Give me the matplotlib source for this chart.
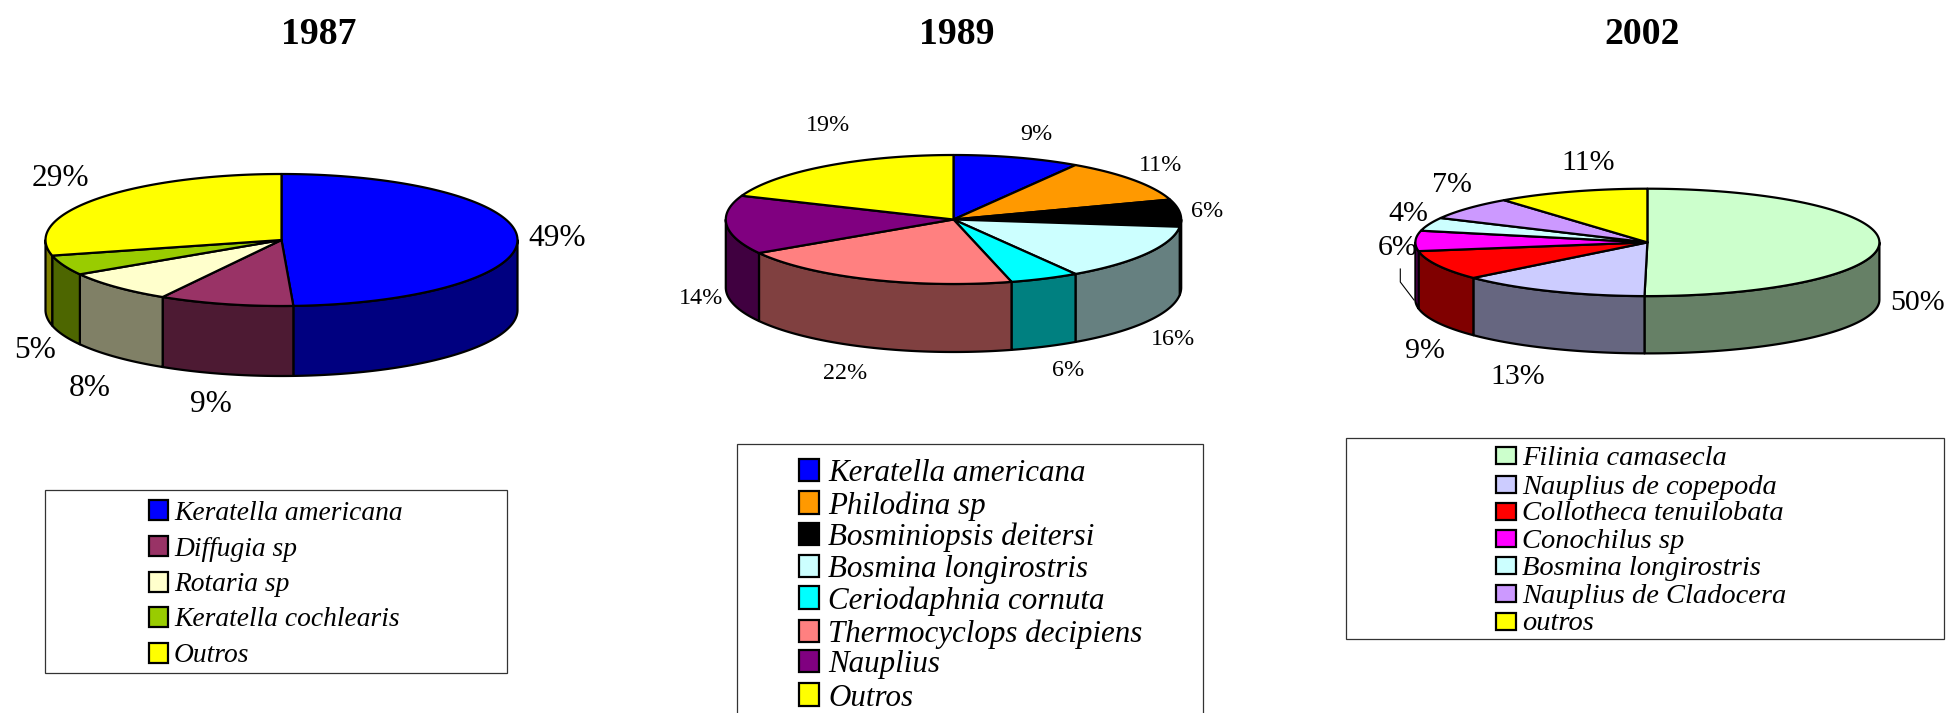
"""Three 3-D style pies (1987, 1989, 2002) with boxed legends, drawn in pixel coords of the 1950x713 page."""
import numpy as np
import matplotlib; matplotlib.use("Agg")
import matplotlib.pyplot as plt
from matplotlib.patches import Polygon, Rectangle

plt.rcParams['font.family'] = ['Liberation Serif', 'DejaVu Serif']

# data: wedge sizes, labels as printed on it
names_87 = ["Keratella americana", "Diffugia sp", "Rotaria sp", "Keratella cochlearis", "Outros"]
sizes_87 = [49.2, 9.2, 7.9, 4.9, 28.8]
pct_87 = ["49%", "9%", "8%", "5%", "29%"]
cols_87 = ["#0000FF", "#993366", "#FFFFCC", "#99CC00", "#FFFF00"]

names_89 = ["Keratella americana", "Philodina sp", "Bosminiopsis deitersi", "Bosmina longirostris",
            "Ceriodaphnia cornuta", "Thermocyclops decipiens", "Nauplius", "Outros"]
sizes_89 = [9, 11, 6.8, 14.2, 4.9, 20.4, 14.7, 19]
pct_89 = ["9%", "11%", "6%", "16%", "6%", "22%", "14%", "19%"]
cols_89 = ["#0000FF", "#FF9900", "#000000", "#CCFFFF", "#00FFFF", "#FF8080", "#800080", "#FFFF00"]

names_02 = ["Filinia camasecla", "Nauplius de copepoda", "Collotheca tenuilobata", "Conochilus sp",
            "Bosmina longirostris", "Nauplius de Cladocera", "outros"]
sizes_02 = [50.2, 13.3, 8.9, 6.1, 4, 6.9, 10.6]
pct_02 = ["50%", "13%", "9%", "6%", "4%", "7%", "11%"]
cols_02 = ["#CCFFCC", "#CCCCFF", "#FF0000", "#FF00FF", "#CCFFFF", "#CC99FF", "#FFFF00"]

LW = 1.6


def pt(cx, cy, rx, ry, a):
    # a in degrees, clockwise from 12 o'clock
    a = np.radians(a)
    return cx + rx * np.sin(a), cy - ry * np.cos(a)


def pie3d(ax, sizes, cols, cx, cy, rx, ry, depth):
    edges = np.concatenate([[0], np.cumsum(sizes)]) / np.sum(sizes) * 360
    # walls first, only the front half (90..270) shows
    for a0, a1, c in zip(edges[:-1], edges[1:], cols):
        lo, hi = max(a0, 90), min(a1, 270)
        if hi > lo:
            x, y = pt(cx, cy, rx, ry, np.linspace(lo, hi, 80))
            xy = np.r_[np.c_[x, y], np.c_[x, y + depth][::-1]]
            dark = tuple(v * 0.5 for v in matplotlib.colors.to_rgb(c))
            ax.add_patch(Polygon(xy, fc=dark, ec="k", lw=LW, joinstyle="round"))
    for a0, a1, c in zip(edges[:-1], edges[1:], cols):
        x, y = pt(cx, cy, rx, ry, np.linspace(a0, a1, 120))
        xy = np.r_[[[cx, cy]], np.c_[x, y]]
        ax.add_patch(Polygon(xy, fc=c, ec="k", lw=LW, joinstyle="round"))


def legend(ax, box, names, cols, sw_x, sw_w, sw_h, ys, tx, fs):
    ax.add_patch(Rectangle((box[0], box[1]), box[2] - box[0], box[3] - box[1], fc="white", ec="#333333", lw=0.9))
    for n, c, y in zip(names, cols, ys):
        ax.add_patch(Rectangle((sw_x, y - sw_h / 2), sw_w, sw_h, fc=c, ec="k", lw=LW))
        ax.text(tx, y, n, style="italic", fontsize=fs, va="center_baseline", ha="left", color="k")


def labels(ax, pcts, spots, fs):
    for s, (x, y) in zip(pcts, spots):
        ax.text(x, y + 2.5, s, fontsize=fs, ha="center", va="center", color="k")


fig = plt.figure(figsize=(19.5, 7.13), dpi=100)
ax = fig.add_axes([0, 0, 1, 1])
ax.set_xlim(0, 1950); ax.set_ylim(713, 0); ax.axis("off")

for t, x in zip(["1987", "1989", "2002"], [318.5, 957, 1642]):
    ax.text(x, 34.5, t, fontsize=27.2, weight="bold", ha="center", va="center")

# 1987
pie3d(ax, sizes_87, cols_87, 281.5, 240, 236, 66, 70)
labels(ax, pct_87, [(557, 236), (211, 402), (90, 386), (35, 348), (60, 176)], 22.6)
legend(ax, (45, 490, 507, 673), names_87, cols_87, 149, 18.5, 20, [510, 546, 581.5, 617, 652.5], 174, 19.8)

# 1989
pie3d(ax, sizes_89, cols_89, 953.5, 219.5, 227.7, 64.5, 68)
labels(ax, pct_89, [(1036, 132), (1161, 163), (1207, 209), (1173, 337), (1068, 368), (845, 371), (701, 296), (828, 123)], 17.4)
legend(ax, (736.5, 444, 1202.5, 730), names_89, cols_89, 798.5, 20.5, 22.5,
       [470, 502.5, 534, 566, 597.5, 631, 661, 694.5], 828, 22.3)

# 2002
pie3d(ax, sizes_02, cols_02, 1647.4, 242.4, 232, 53.7, 57.3)
labels(ax, pct_02, [(1918, 300), (1518, 375), (1425, 349), (1397.5, 245.5), (1408.5, 211.5), (1452, 182), (1588, 160)], 21.5)
ax.plot([1400.3, 1400.3, 1414], [269, 282, 300], color="k", lw=0.8)
legend(ax, (1345.5, 437.5, 1944, 638.5), names_02, cols_02, 1495.7, 20, 17,
       [455.7, 484, 511, 538.4, 565.7, 593.4, 621], 1522, 20.5)

fig.savefig("out.png", dpi=100)
